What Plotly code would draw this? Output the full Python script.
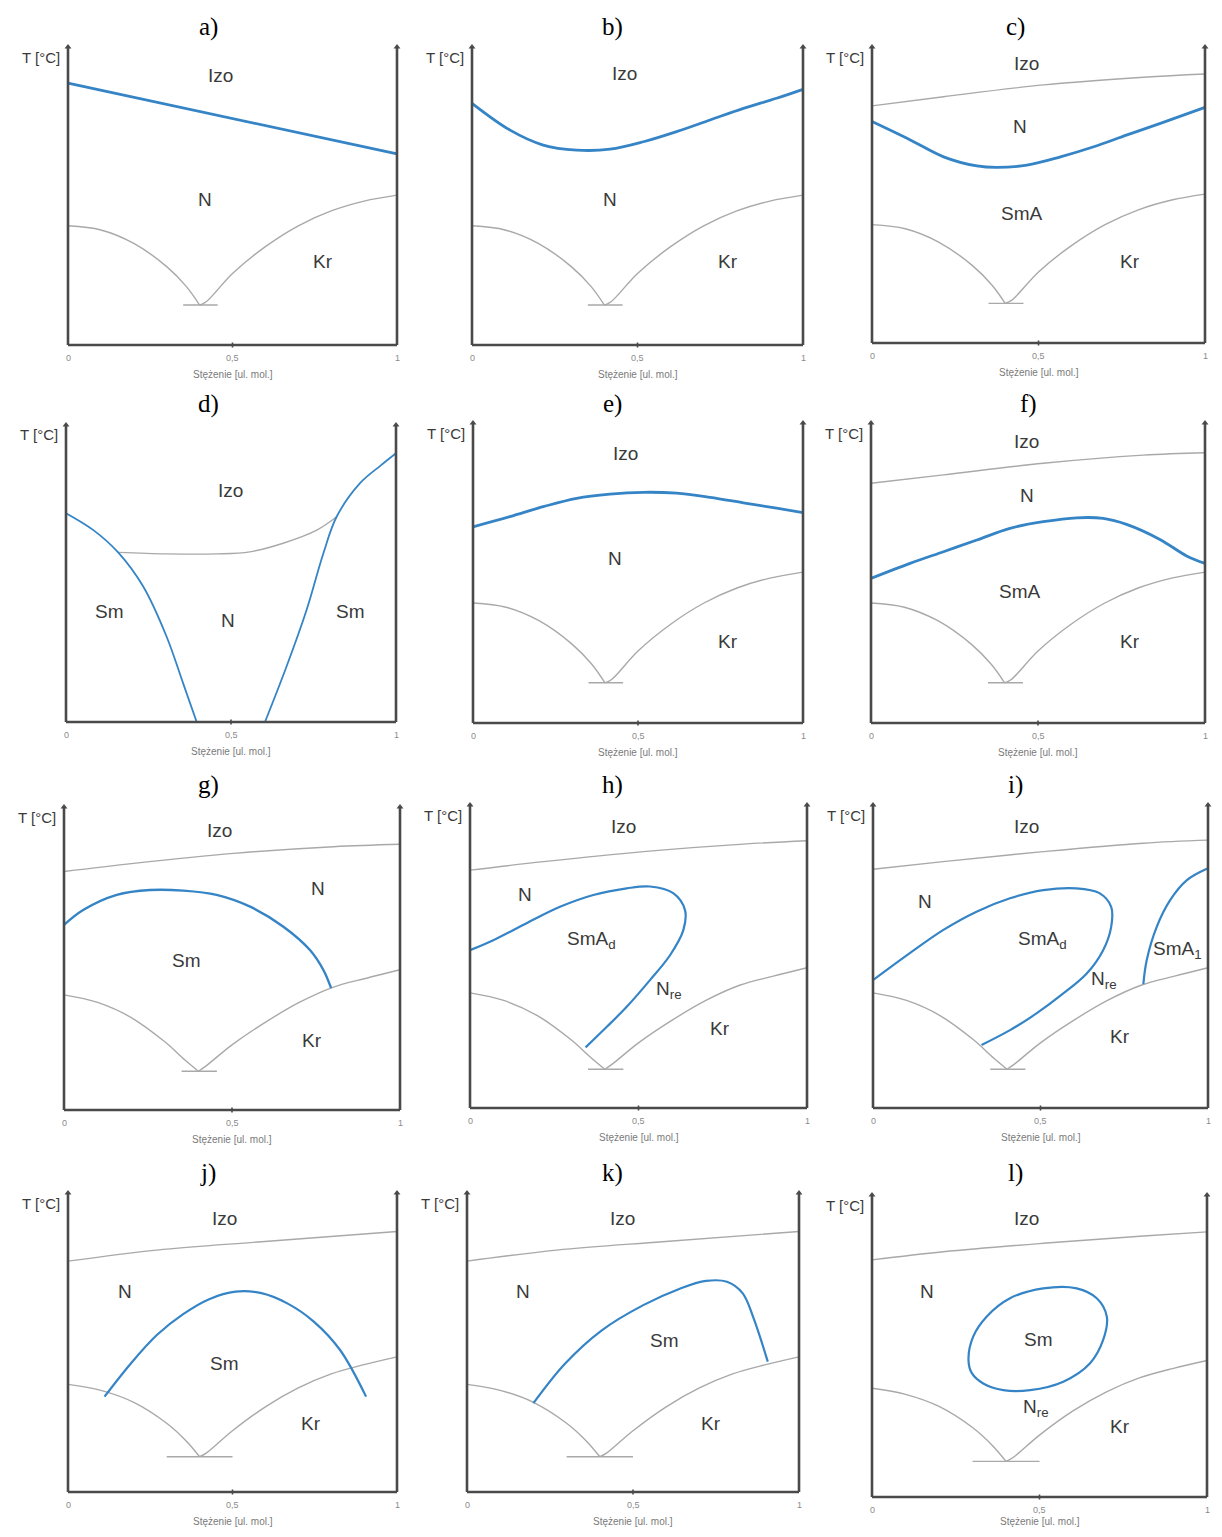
import plotly.graph_objects as go

# ---------------- data (x: mole fraction 0..1, y: % of panel temperature span) ----------------
PANELS = ["a", "b", "c", "d", "e", "f", "g", "h", "i", "j", "k", "l"]

LIQ_LEFT_X = [0, 0.1, 0.2, 0.3, 0.36, 0.40]
LIQ_RIGHT_X = [0.40, 0.42, 0.5, 0.6, 0.7, 0.8, 0.9, 1.0]
LIQ_LEFT_Y_TOP = [40, 38.6, 34.1, 26.3, 19.6, 13.4]
LIQ_RIGHT_Y_TOP = [13.4, 14.5, 24, 33, 40, 45, 48.3, 50.3]
LIQ_LEFT_Y_MID = [38, 35.5, 30.5, 22.5, 16.5, 12.8]
LIQ_RIGHT_Y_MID = [12.8, 14.3, 21.5, 29, 35.5, 40.5, 43.5, 46.3]
LIQ_LEFT_Y_LOW = [36, 34, 30, 23, 17, 11.8]
LIQ_RIGHT_Y_LOW = [11.8, 13, 20.5, 28.5, 34.8, 39.5, 42.6, 45.2]
EUT_X_NARROW = [0.35, 0.455]
EUT_X_WIDE = [0.30, 0.50]

A_BLUE_X = [0, 1]
A_BLUE_Y = [87.9, 64.1]

B_BLUE_X = [0, 0.115, 0.215, 0.316, 0.417, 0.518, 0.618, 0.719, 0.82, 0.92, 1.0]
B_BLUE_Y = [81.1, 72.1, 67.1, 65.4, 65.7, 68.2, 71.6, 75.5, 79.4, 82.8, 85.8]

C_GRAY_X = [0, 0.215, 0.516, 0.816, 1.0]
C_GRAY_Y = [80.1, 83.2, 87.2, 89.8, 90.9]
C_BLUE_X = [0, 0.115, 0.215, 0.315, 0.375, 0.465, 0.566, 0.666, 0.766, 0.866, 1.0]
C_BLUE_Y = [74.8, 68.6, 62.9, 59.8, 59.3, 60.1, 62.9, 66.3, 70.3, 74.2, 79.6]

D_GRAY_X = [0.158, 0.305, 0.457, 0.557, 0.658, 0.76, 0.82]
D_GRAY_Y = [57.1, 56.6, 56.6, 57.3, 60.2, 64.6, 69.1]
D_BLUE_L_X = [0, 0.083, 0.158, 0.234, 0.305, 0.355, 0.396]
D_BLUE_L_Y = [70.3, 64.6, 57.1, 45.6, 28.7, 13, 0]
D_BLUE_R_X = [0.603, 0.668, 0.729, 0.78, 0.82, 0.891, 0.955, 1.0]
D_BLUE_R_Y = [0, 18.6, 37.7, 56.8, 69.1, 80.4, 86.5, 90.5]

E_BLUE_X = [0, 0.112, 0.213, 0.314, 0.415, 0.516, 0.617, 0.718, 0.819, 0.92, 1.0]
E_BLUE_Y = [65.4, 68.8, 72.1, 74.9, 76.3, 76.9, 76.6, 75.2, 73.4, 71.6, 70.1]

F_GRAY_X = [0, 0.217, 0.516, 0.815, 1]
F_GRAY_Y = [79.9, 82.7, 86.6, 89.3, 90.1]
F_BLUE_X = [0, 0.117, 0.217, 0.317, 0.416, 0.516, 0.616, 0.695, 0.765, 0.865, 0.945, 1.0]
F_BLUE_Y = [48.2, 53.2, 57.1, 61, 64.9, 67.1, 68.4, 68.2, 66.2, 61.2, 55.7, 53.2]

G_GRAY_X = [0, 0.207, 0.504, 0.802, 1]
G_GRAY_Y = [78.7, 81.4, 84.7, 86.9, 87.7]
G_BLUE_X = [0, 0.057, 0.157, 0.256, 0.355, 0.454, 0.554, 0.653, 0.732, 0.772, 0.795]
G_BLUE_Y = [61.1, 66, 71, 72.6, 72.4, 71, 67.1, 60.5, 52.8, 46.2, 40.2]

H_GRAY_X = [0, 0.218, 0.514, 0.811, 1]
H_GRAY_Y = [78.5, 81.3, 84.6, 87.1, 88.2]
H_BLUE_X = [0, 0.069, 0.168, 0.267, 0.366, 0.465, 0.534, 0.603, 0.638, 0.633, 0.594, 0.534, 0.465, 0.406, 0.343]
H_BLUE_Y = [52.1, 55.4, 61, 66.4, 70.3, 72.5, 73.1, 70.9, 65.3, 58.7, 50.5, 42.2, 33.4, 26.8, 20]

I_GRAY_X = [0, 0.209, 0.508, 0.807, 1]
I_GRAY_Y = [78.8, 81.3, 84.6, 87.4, 88.4]
I_BLUE1_X = [0, 0.11, 0.209, 0.309, 0.409, 0.508, 0.607, 0.676, 0.711, 0.711, 0.687, 0.638, 0.568, 0.488, 0.409, 0.324]
I_BLUE1_Y = [42.2, 51.1, 58.7, 64.8, 69.2, 71.9, 72.5, 70.9, 66.4, 59.8, 52.1, 44.4, 37.8, 31.2, 25.7, 20.8]
I_BLUE2_X = [0.807, 0.817, 0.847, 0.887, 0.937, 1.0]
I_BLUE2_Y = [40.9, 48.8, 59.8, 68.6, 75.2, 79.1]

J_GRAY_X = [0, 0.27, 0.588, 1]
J_GRAY_Y = [77.2, 80.9, 83.7, 87.1]
J_BLUE_X = [0.111, 0.191, 0.27, 0.35, 0.429, 0.509, 0.588, 0.668, 0.747, 0.827, 0.906]
J_BLUE_Y = [31.9, 43, 52.5, 59.5, 64.5, 67, 66.5, 63, 57, 47.5, 31.9]

K_GRAY_X = [0, 0.27, 0.588, 1]
K_GRAY_Y = [77.2, 80.9, 83.7, 87.1]
K_BLUE_X = [0.2, 0.295, 0.405, 0.531, 0.641, 0.72, 0.783, 0.83, 0.862, 0.906]
K_BLUE_Y = [29.7, 42.9, 54, 62.5, 68, 70.6, 70.3, 66.5, 58.5, 43.6]

L_GRAY_X = [0, 0.213, 0.511, 0.81, 1]
L_GRAY_Y = [78.5, 81.2, 84, 86.4, 87.8]
L_BLUE_X = [0.288, 0.302, 0.342, 0.412, 0.511, 0.611, 0.671, 0.701, 0.69, 0.651, 0.571, 0.472, 0.392, 0.332, 0.298, 0.288]
L_BLUE_Y = [45.4, 53.1, 59.7, 65.8, 69.1, 69.1, 65.8, 59.7, 52, 44.3, 38.2, 35.4, 35.4, 37.6, 41, 45.4]

LABELS = {
    "a": [("Izo", 0.465, 90.6), ("N", 0.416, 48.7), ("Kr", 0.775, 27.9)],
    "b": [("Izo", 0.462, 91.2), ("N", 0.417, 48.7), ("Kr", 0.773, 28)],
    "c": [("Izo", 0.465, 94.5), ("N", 0.444, 73.1), ("SmA", 0.45, 43.8), ("Kr", 0.775, 27.5)],
    "d": [("Izo", 0.497, 78.1), ("Sm", 0.133, 37.1), ("N", 0.492, 34.3), ("Sm", 0.861, 37.1)],
    "e": [("Izo", 0.461, 89.9), ("N", 0.43, 54.9), ("Kr", 0.774, 27.1)],
    "f": [("Izo", 0.466, 93.8), ("N", 0.466, 76), ("SmA", 0.446, 43.8), ("Kr", 0.775, 27.1)],
    "g": [("Izo", 0.464, 92.4), ("N", 0.757, 73.2), ("Sm", 0.365, 49.5), ("Kr", 0.737, 23.1)],
    "h": [("Izo", 0.455, 92.9), ("N", 0.163, 70.3), ("SmA<sub>d</sub>", 0.36, 55.4),
          ("N<sub>re</sub>", 0.59, 38.9), ("Kr", 0.742, 26.3)],
    "i": [("Izo", 0.459, 92.8), ("N", 0.155, 68.1), ("SmA<sub>d</sub>", 0.505, 55.4),
          ("N<sub>re</sub>", 0.69, 42.2), ("SmA<sub>1</sub>", 0.91, 52.1), ("Kr", 0.737, 23.5)],
    "j": [("Izo", 0.477, 91.5), ("N", 0.172, 67), ("Sm", 0.477, 43), ("Kr", 0.739, 23)],
    "k": [("Izo", 0.468, 91.5), ("N", 0.169, 67), ("Sm", 0.594, 50.8), ("Kr", 0.736, 23)],
    "l": [("Izo", 0.462, 92.3), ("N", 0.163, 68), ("Sm", 0.497, 52), ("N<sub>re</sub>", 0.49, 29.4),
          ("Kr", 0.74, 23.3)],
}

X_TICK_VALS = [0, 0.5, 1]
X_TICK_TEXT = ["0", "0,5", "1"]
X_TITLE = "Stężenie [ul. mol.]"
Y_TITLE = "T [°C]"

# ---------------- layout geometry (page pixels: left, right, top, bottom) ----------------
PAGE_W, PAGE_H = 1222, 1537
OFF = 8  # default page body margin
WIDTH, HEIGHT = PAGE_W - 2 * OFF, PAGE_H - 2 * OFF
BOXES = {
    "a": (68, 397, 47, 345), "b": (472, 803, 47, 345), "c": (872, 1205, 47, 343),
    "d": (66, 396, 425, 722), "e": (473, 803, 423, 723), "f": (871, 1205, 423, 723),
    "g": (64, 400, 807, 1110), "h": (470, 807, 805, 1108), "i": (873, 1208, 805, 1108),
    "j": (68, 397, 1193, 1492), "k": (467, 799, 1193, 1492), "l": (872, 1207, 1195, 1497),
}
TITLE_POS = {
    "a": (208, 27), "b": (612, 27), "c": (1015, 27),
    "d": (208, 404), "e": (612, 404), "f": (1028, 404),
    "g": (208, 785), "h": (612, 785), "i": (1015, 785),
    "j": (208, 1173), "k": (612, 1173), "l": (1015, 1173),
}
XTITLE_SHIFT = {"l": -24}

BLUE = "#3584c6"
GRAY = "#a9a9a9"
AXC = "#4a4a4a"
TXT = "#3a3a3a"

PAD_PX = 5

fig = go.Figure()
annotations = []
layout_axes = {}


def add(idx, xs, ys, color, width, shape="spline"):
    sfx = "" if idx == 1 else str(idx)
    fig.add_trace(go.Scatter(x=xs, y=ys, mode="lines", xaxis="x" + sfx, yaxis="y" + sfx,
                             line=dict(color=color, width=width, shape=shape),
                             hoverinfo="skip", showlegend=False))


for n, p in enumerate(PANELS):
    idx = n + 1
    sfx = "" if idx == 1 else str(idx)
    L, R, T, B = [v - OFF for v in BOXES[p]]
    wp, hp = R - L, B - T
    padx = PAD_PX / wp
    pady = PAD_PX / hp * 100
    x0 = max(0.0, (L - PAD_PX) / WIDTH)
    x1 = min(1.0, (R + PAD_PX) / WIDTH)
    y0 = max(0.0, 1 - (B + PAD_PX) / HEIGHT)
    y1 = min(1.0, 1 - (T - PAD_PX) / HEIGHT)
    layout_axes["xaxis" + sfx] = dict(domain=[x0, x1], range=[-padx, 1 + padx], visible=False,
                                      anchor="y" + sfx, fixedrange=True)
    layout_axes["yaxis" + sfx] = dict(domain=[y0, y1], range=[-pady, 100 + pady], visible=False,
                                      anchor="x" + sfx, fixedrange=True)

    # liquidus + eutectic
    if p != "d":
        if p in "abcdef":
            ly, ry = LIQ_LEFT_Y_TOP, LIQ_RIGHT_Y_TOP
        elif p in "ghi":
            ly, ry = LIQ_LEFT_Y_MID, LIQ_RIGHT_Y_MID
        else:
            ly, ry = LIQ_LEFT_Y_LOW, LIQ_RIGHT_Y_LOW
        add(idx, LIQ_LEFT_X, ly, GRAY, 1.4)
        add(idx, LIQ_RIGHT_X, ry, GRAY, 1.4)
        ex = EUT_X_WIDE if p in "jkl" else EUT_X_NARROW
        add(idx, ex, [ly[-1], ly[-1]], GRAY, 1.4, "linear")

    # panel-specific curves
    if p == "a":
        add(idx, A_BLUE_X, A_BLUE_Y, BLUE, 2.8, "linear")
    elif p == "b":
        add(idx, B_BLUE_X, B_BLUE_Y, BLUE, 2.8)
    elif p == "c":
        add(idx, C_GRAY_X, C_GRAY_Y, GRAY, 1.4)
        add(idx, C_BLUE_X, C_BLUE_Y, BLUE, 2.8)
    elif p == "d":
        add(idx, D_GRAY_X, D_GRAY_Y, GRAY, 1.4)
        add(idx, D_BLUE_L_X, D_BLUE_L_Y, BLUE, 1.8)
        add(idx, D_BLUE_R_X, D_BLUE_R_Y, BLUE, 1.8)
    elif p == "e":
        add(idx, E_BLUE_X, E_BLUE_Y, BLUE, 2.8)
    elif p == "f":
        add(idx, F_GRAY_X, F_GRAY_Y, GRAY, 1.4)
        add(idx, F_BLUE_X, F_BLUE_Y, BLUE, 2.8)
    elif p == "g":
        add(idx, G_GRAY_X, G_GRAY_Y, GRAY, 1.4)
        add(idx, G_BLUE_X, G_BLUE_Y, BLUE, 2.4)
    elif p == "h":
        add(idx, H_GRAY_X, H_GRAY_Y, GRAY, 1.4)
        add(idx, H_BLUE_X, H_BLUE_Y, BLUE, 2.2)
    elif p == "i":
        add(idx, I_GRAY_X, I_GRAY_Y, GRAY, 1.4)
        add(idx, I_BLUE1_X, I_BLUE1_Y, BLUE, 2.2)
        add(idx, I_BLUE2_X, I_BLUE2_Y, BLUE, 2.2)
    elif p == "j":
        add(idx, J_GRAY_X, J_GRAY_Y, GRAY, 1.4)
        add(idx, J_BLUE_X, J_BLUE_Y, BLUE, 2.2)
    elif p == "k":
        add(idx, K_GRAY_X, K_GRAY_Y, GRAY, 1.4)
        add(idx, K_BLUE_X, K_BLUE_Y, BLUE, 2.2)
    elif p == "l":
        add(idx, L_GRAY_X, L_GRAY_Y, GRAY, 1.4)
        add(idx, L_BLUE_X, L_BLUE_Y, BLUE, 2.2)

    # frame axes
    add(idx, [0, 0], [0, 100], AXC, 2.6, "linear")
    add(idx, [1, 1], [0, 100], AXC, 2.6, "linear")
    add(idx, [0, 1], [0, 0], AXC, 2.6, "linear")
    add(idx, [0.5, 0.5], [-pady * 0.5, pady * 0.5], AXC, 1.6, "linear")
    fig.add_trace(go.Scatter(x=[0, 1], y=[100, 100], mode="markers", xaxis="x" + sfx, yaxis="y" + sfx,
                             marker=dict(symbol="triangle-up", size=6, color=AXC),
                             cliponaxis=False, hoverinfo="skip", showlegend=False))

    xr, yr = "x" + sfx, "y" + sfx
    for v, t in zip(X_TICK_VALS, X_TICK_TEXT):
        annotations.append(dict(x=v, y=0, xref=xr, yref=yr, text=t, showarrow=False, yshift=-13,
                                xanchor="center", yanchor="middle",
                                font=dict(family="Liberation Sans", size=9, color="#8a8a8a")))
    annotations.append(dict(x=0.5, y=0, xref=xr, yref=yr, text=X_TITLE, showarrow=False,
                            yshift=XTITLE_SHIFT.get(p, -29), xanchor="center", yanchor="middle",
                            font=dict(family="Liberation Sans", size=10, color="#7a7a7a")))
    annotations.append(dict(x=0, y=100, xref=xr, yref=yr, text=Y_TITLE, showarrow=False,
                            xanchor="right", yanchor="middle", xshift=-6, yshift=-10,
                            font=dict(family="Liberation Sans", size=15, color=TXT)))
    for t, lx, ly_ in LABELS[p]:
        annotations.append(dict(x=lx, y=ly_, xref=xr, yref=yr, text=t, showarrow=False,
                                xanchor="center", yanchor="middle",
                                font=dict(family="Liberation Sans", size=19, color=TXT)))
    tx, ty = TITLE_POS[p]
    annotations.append(dict(x=(tx - OFF) / WIDTH, y=1 - (ty - OFF) / HEIGHT, xref="paper", yref="paper",
                            text=p + ")", showarrow=False, xanchor="center", yanchor="middle",
                            font=dict(family="Liberation Serif", size=25, color="#000000")))

fig.update_layout(width=WIDTH, height=HEIGHT, margin=dict(l=0, r=0, t=0, b=0),
                  paper_bgcolor="white", plot_bgcolor="white", showlegend=False,
                  annotations=annotations, **layout_axes)

fig.write_html("out.html")
